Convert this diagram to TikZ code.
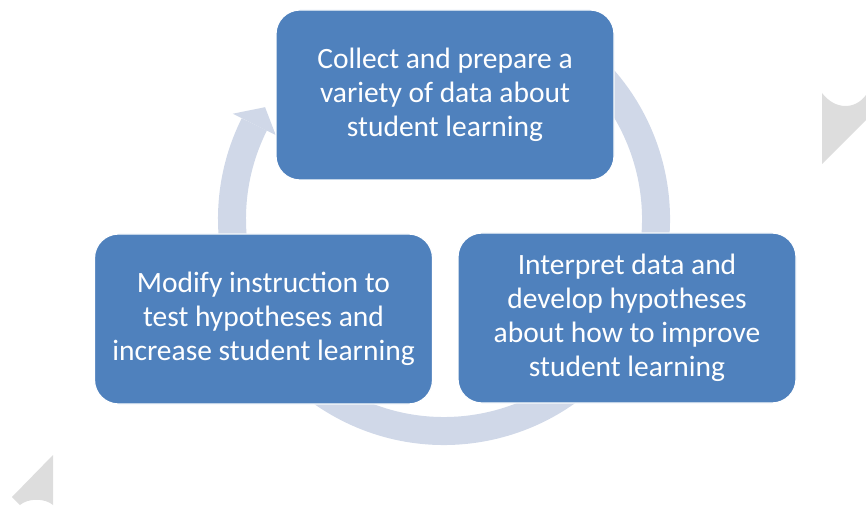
\documentclass[tikz,border=0pt]{standalone}
\usepackage{fontspec}
\setmainfont{Carlito}
\definecolor{boxblue}{HTML}{4F81BD}
\definecolor{ringblue}{HTML}{D0D8E8}
\definecolor{markgray}{HTML}{DDDDDD}
\tikzset{
	stepbox/.style={draw=white, line width=1.2pt, fill=boxblue, rounded corners=24pt, minimum width=338pt, minimum height=170pt, inner sep=0pt, text=white, align=center, font=\fontsize{29.5}{34}\selectfont},
	ring/.style={ringblue, line width=28pt}
}
\begin{document}
\begin{tikzpicture}[x=1pt, y=1pt, line join=round]
			\useasboundingbox (0,0) rectangle (866,506);
			\def\rmid{212}
			\coordinate (hub) at (444,287);
			% circular arrow behind the boxes
			\draw[ring] ([shift={(60:\rmid)}]hub) arc[start angle=60, end angle=-206.5, radius=\rmid];
			\fill[ringblue] ([shift={(153.5:188)}]hub) -- ([shift={(148:211)}]hub) -- ([shift={(153.5:236)}]hub) -- cycle;
			% corner marks
			\fill[markgray] (822,413) .. controls (835,396) and (855,396) .. (866,411) -- (866,386) -- (822,342) -- cycle;
			\fill[markgray] (53,51) -- (53,1) .. controls (45,8) and (28,8) .. (20,1) -- (12,9) -- cycle;
			% steps
			\node[stepbox] (collect) at (445,411) {Collect and prepare a\\variety of data about\\student learning};
			\node[stepbox] (interpret) at (627,188) {Interpret data and\\develop hypotheses\\about how to improve\\student learning};
			\node[stepbox] (modify) at (263.5,187) {Modify instruction to\\test hypotheses and\\increase student learning};
\end{tikzpicture}
\end{document}
